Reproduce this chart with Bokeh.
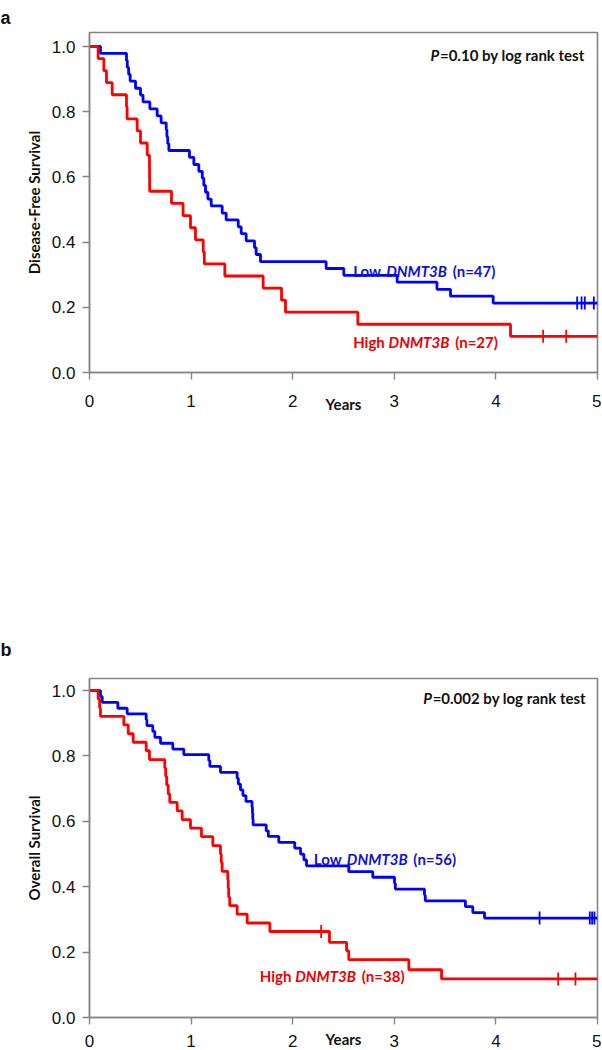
from bokeh.plotting import figure
from bokeh.models import Range1d, FixedTicker, NumeralTickFormatter, Label
from bokeh.layouts import column
from bokeh.embed import file_html
from bokeh.resources import INLINE
from math import pi

# ---------------- data: panel a (Disease-Free Survival) ----------------
a_low_t = [0.108, 0.364, 0.372, 0.385, 0.400, 0.453, 0.502, 0.527, 0.594, 0.666,
           0.705, 0.755, 0.762, 0.770, 0.781, 0.984, 1.027, 1.076, 1.110, 1.125,
           1.142, 1.165, 1.198, 1.306, 1.345, 1.464, 1.493, 1.542, 1.624, 1.640,
           1.683, 2.329, 2.503, 3.028, 3.420, 3.553, 3.973]
a_low_s = [0.979, 0.957, 0.936, 0.915, 0.894, 0.872, 0.851, 0.830, 0.809, 0.787,
           0.766, 0.745, 0.723, 0.702, 0.681, 0.660, 0.638, 0.617, 0.596, 0.574,
           0.553, 0.532, 0.511, 0.489, 0.468, 0.447, 0.426, 0.404, 0.383, 0.362,
           0.340, 0.319, 0.298, 0.277, 0.255, 0.234, 0.213]
a_low_cens = [4.800, 4.843, 4.875, 4.964]

a_high_t = [0.085, 0.141, 0.167, 0.223, 0.364, 0.370, 0.469, 0.502, 0.568, 0.590,
            0.591, 0.592, 0.807, 0.921, 0.994, 1.043, 1.119, 1.130, 1.332, 1.709,
            1.890, 1.929, 2.641, 4.144]
a_high_s = [0.963, 0.926, 0.889, 0.852, 0.815, 0.778, 0.741, 0.704, 0.667, 0.630,
            0.593, 0.556, 0.519, 0.481, 0.444, 0.407, 0.370, 0.333, 0.296, 0.259,
            0.222, 0.185, 0.148, 0.111]
a_high_cens = [4.465, 4.692]

# ---------------- data: panel b (Overall Survival) ----------------
b_low_t = [0.108, 0.125, 0.279, 0.371, 0.558, 0.565, 0.623, 0.643, 0.699, 0.820,
           0.928, 1.174, 1.185, 1.289, 1.453, 1.465, 1.486, 1.510, 1.540, 1.600,
           1.604, 1.607, 1.610, 1.739, 1.760, 1.863, 2.020, 2.077, 2.110, 2.136,
           2.552, 2.788, 3.002, 3.010, 3.297, 3.305, 3.700, 3.773, 3.888]
b_low_s = [0.982, 0.964, 0.946, 0.929, 0.911, 0.893, 0.875, 0.857, 0.839, 0.821,
           0.804, 0.786, 0.768, 0.750, 0.732, 0.714, 0.696, 0.679, 0.661, 0.643,
           0.625, 0.607, 0.589, 0.571, 0.554, 0.536, 0.518, 0.500, 0.482, 0.464,
           0.446, 0.429, 0.411, 0.393, 0.375, 0.357, 0.339, 0.321, 0.304]
b_low_cens = [4.430, 4.924, 4.947, 4.970]

b_high_t = [0.085, 0.100, 0.108, 0.338, 0.381, 0.430, 0.558, 0.590, 0.741, 0.750,
            0.760, 0.775, 0.790, 0.863, 0.912, 0.994, 1.102, 1.214, 1.289, 1.297,
            1.305, 1.361, 1.365, 1.370, 1.380, 1.453, 1.552, 1.775, 2.362, 2.530,
            2.552, 3.143, 3.465]
b_high_s = [0.974, 0.947, 0.921, 0.895, 0.868, 0.842, 0.816, 0.789, 0.763, 0.737,
            0.711, 0.684, 0.658, 0.632, 0.605, 0.579, 0.553, 0.526, 0.500, 0.474,
            0.447, 0.421, 0.395, 0.368, 0.342, 0.316, 0.289, 0.263, 0.230, 0.204,
            0.177, 0.146, 0.118]
b_high_cens = [2.280, 4.613, 4.783]

x_ticks = [0, 1, 2, 3, 4, 5]
y_ticks = [0.0, 0.2, 0.4, 0.6, 0.8, 1.0]

BLUE = "#0000FF"
RED = "#FF0000"
BLUE_TXT = "#1010D8"
RED_TXT = "#EE0000"
GRAY = "#858585"
LABEL_FONT = "Lato"
TICK_FONT = "Liberation Sans"


def level_at(times, surv, t):
    s = 1.0
    for ti, si in zip(times, surv):
        if ti <= t:
            s = si
    return s


def make_panel(height, top, bottom, ytop, ylabel, panel_tag, tag_standoff,
               tick_standoff, years_standoff):
    p = figure(width=601, height=height, output_backend="svg", toolbar_location=None,
               x_range=Range1d(0, 5), y_range=Range1d(0, ytop),
               min_border_left=89, min_border_right=4, min_border_top=top,
               min_border_bottom=bottom, title=panel_tag)
    p.title.align = "left"
    p.title.offset = -89
    p.title.standoff = tag_standoff
    p.title.text_font = TICK_FONT
    p.title.text_font_size = "18px"
    p.title.text_font_style = "bold"
    p.title.text_color = "#111111"
    p.background_fill_color = "white"
    p.border_fill_color = "white"
    p.outline_line_color = GRAY
    p.outline_line_width = 1.6
    p.xgrid.visible = False
    p.ygrid.visible = False
    for ax in (p.xaxis[0], p.yaxis[0]):
        ax.axis_line_color = GRAY
        ax.axis_line_width = 1.4
        ax.major_tick_line_color = GRAY
        ax.major_tick_line_width = 1.4
        ax.major_tick_out = 7
        ax.major_tick_in = 0
        ax.minor_tick_line_color = None
        ax.major_label_text_font = TICK_FONT
        ax.major_label_text_font_size = "17px"
        ax.major_label_text_color = "#111111"
        ax.axis_label_text_font = LABEL_FONT
        ax.axis_label_text_font_style = "bold"
        ax.axis_label_text_font_size = "15px"
        ax.axis_label_text_color = "#111111"
    p.xaxis.ticker = FixedTicker(ticks=x_ticks)
    p.yaxis.ticker = FixedTicker(ticks=y_ticks)
    p.yaxis.formatter = NumeralTickFormatter(format="0.0")
    p.xaxis.major_label_standoff = tick_standoff
    p.yaxis.major_label_standoff = 7
    p.yaxis.axis_label = ylabel
    p.yaxis.axis_label_standoff = 6
    p.xaxis.axis_label = "Years"
    p.xaxis.axis_label_standoff = years_standoff
    return p


def add_curve(p, times, surv, cens, color):
    xs = [0.0] + list(times) + [5.0]
    ys = [1.0] + list(surv) + [surv[-1]]
    p.step(xs, ys, mode="after", line_color=color, line_width=2.8)
    cy = [level_at(times, surv, t) for t in cens]
    p.scatter(cens, cy, marker="dash", angle=pi / 2, size=13,
              line_color=color, line_width=1.8)


def add_group_label(p, x, y, prefix, gene, suffix, color, off_gene, off_suffix):
    common = dict(x=x, y=y, text_font=LABEL_FONT, text_font_size="15px",
                  text_color=color, text_baseline="alphabetic", text_align="left")
    p.add_layout(Label(text=prefix, text_font_style="bold", **common))
    p.add_layout(Label(text=gene, text_font_style="bold italic", x_offset=off_gene, **common))
    p.add_layout(Label(text=suffix, text_font_style="bold", x_offset=off_suffix, **common))


def add_p_label(p, x, y, rest):
    common = dict(x=x, y=y, text_font=LABEL_FONT, text_font_size="15px",
                  text_color="#111111", text_baseline="alphabetic", text_align="left")
    p.add_layout(Label(text="P", text_font_style="bold italic", **common))
    p.add_layout(Label(text=rest, text_font_style="bold", x_offset=9.5, **common))


# ---------------- panel a ----------------
pa = make_panel(603, 32, 231, 1.043, "Disease-Free Survival", "a", 10, 15, -15)
add_curve(pa, a_low_t, a_low_s, a_low_cens, BLUE)
add_curve(pa, a_high_t, a_high_s, a_high_cens, RED)
add_p_label(pa, 3.356, 0.975, "=0.10 by log rank test")
add_group_label(pa, 2.595, 0.310, "Low", "DNMT3B", "(n=47)", BLUE_TXT, 33, 99.5)
add_group_label(pa, 2.595, 0.093, "High", "DNMT3B", "(n=27)", RED_TXT, 35.4, 102)

# ---------------- panel b ----------------
pb = make_panel(447, 75, 10, 1.037, "Overall Survival", "b", 38, 10, -20)
add_curve(pb, b_low_t, b_low_s, b_low_cens, BLUE)
add_curve(pb, b_high_t, b_high_s, b_high_cens, RED)
add_p_label(pb, 3.284, 0.976, "=0.002 by log rank test")
add_group_label(pb, 2.208, 0.484, "Low", "DNMT3B", "(n=56)", BLUE_TXT, 33, 99.5)
add_group_label(pb, 1.676, 0.128, "High", "DNMT3B", "(n=38)", RED_TXT, 35.4, 102)

layout = column(pa, pb)
open("out.html", "w").write(file_html(layout, INLINE))
